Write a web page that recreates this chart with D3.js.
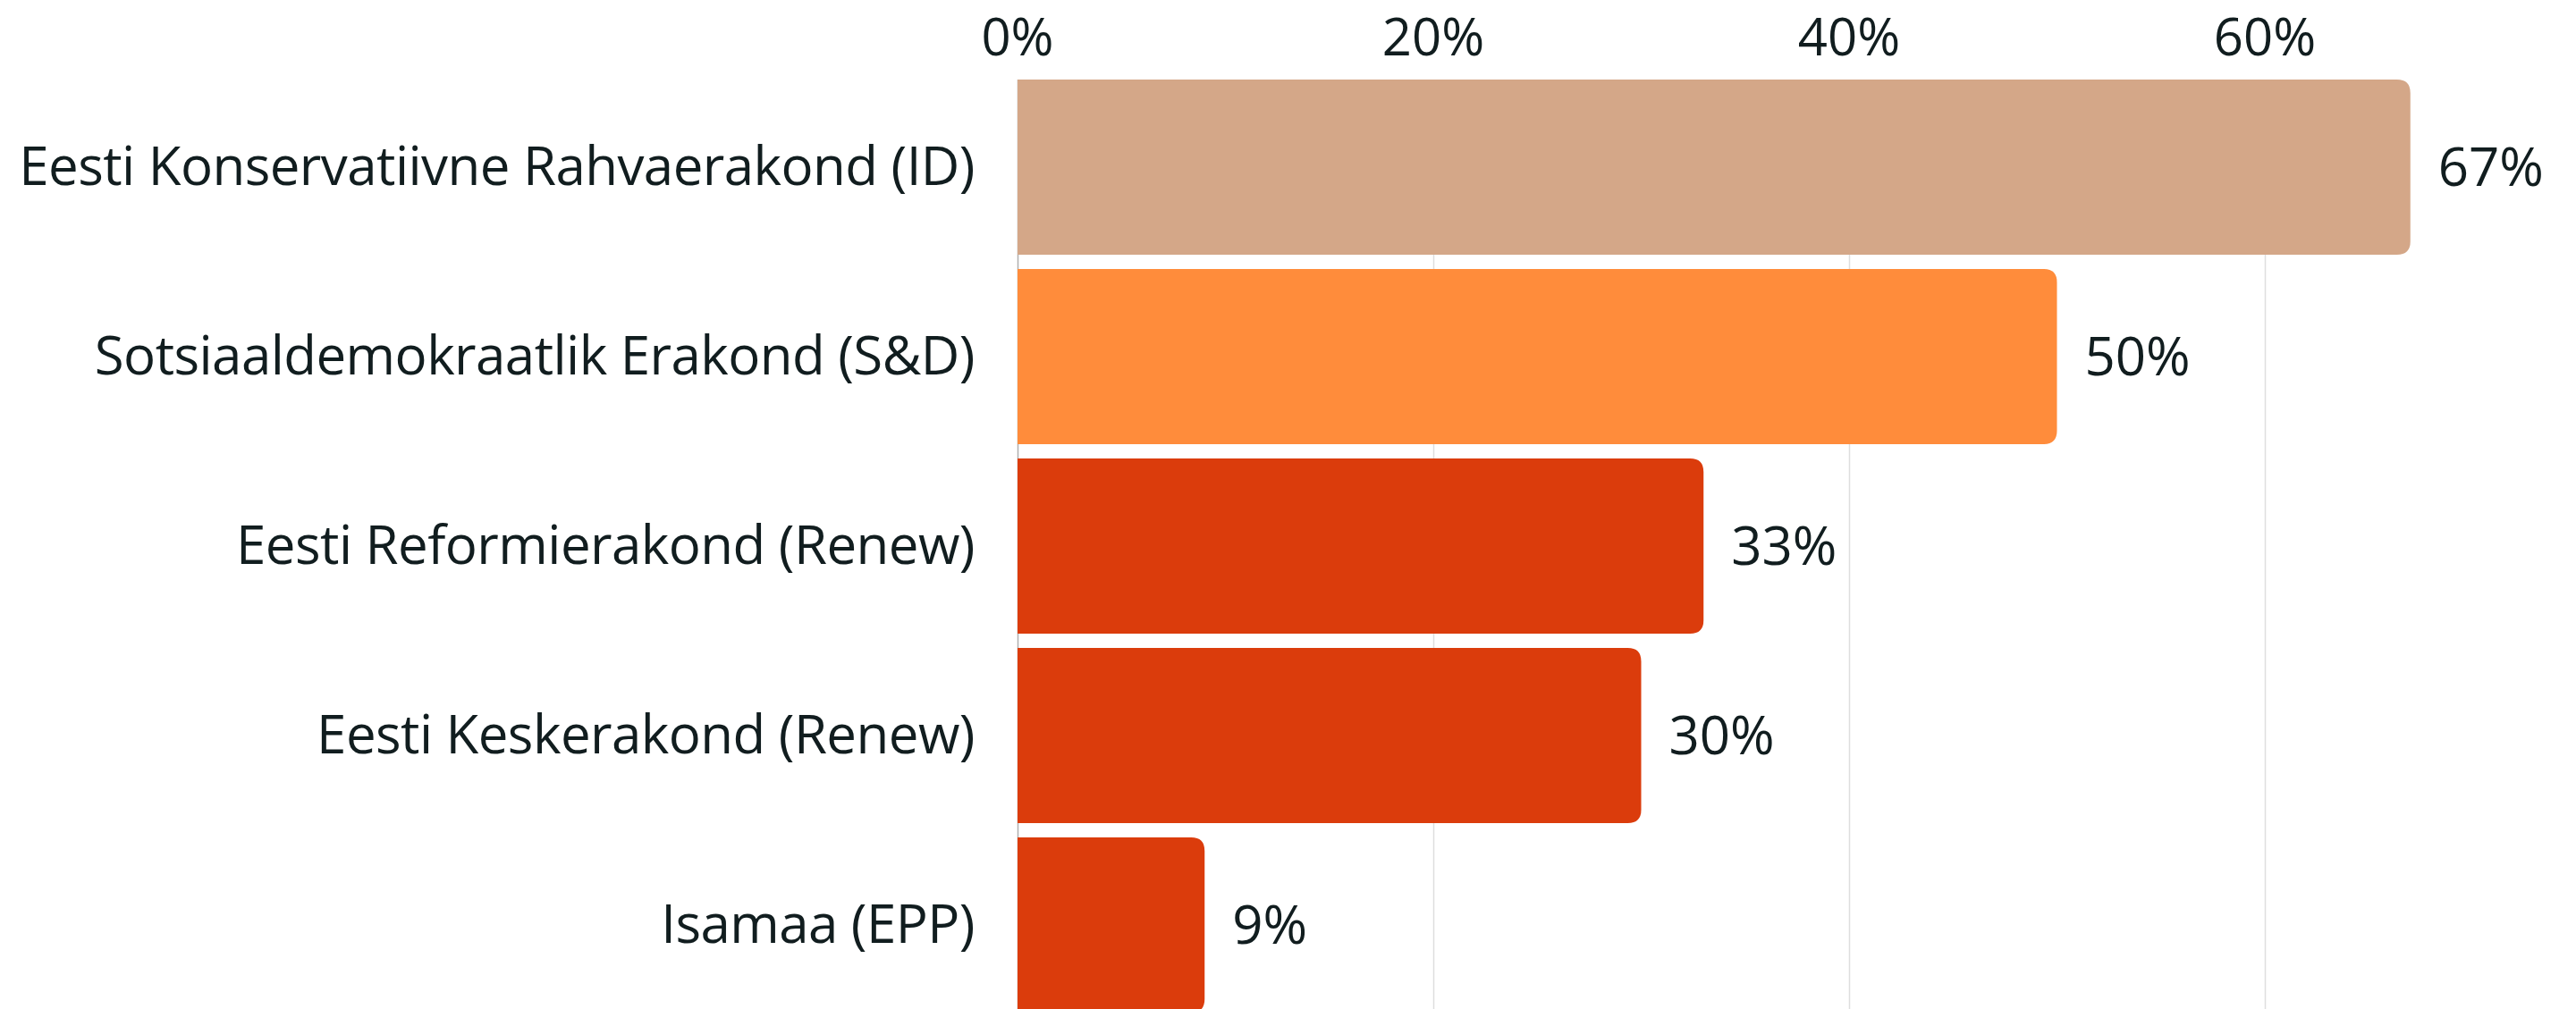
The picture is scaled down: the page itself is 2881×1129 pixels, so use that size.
<!DOCTYPE html>
<html>
<head>
<meta charset="utf-8">
<script src="https://cdn.jsdelivr.net/npm/d3@7"></script>
<style>
  html, body { margin: 0; padding: 0; background: #fff; overflow: hidden; }
  svg text { font-family: "Open Sans", sans-serif; fill: #111d1f; }
</style>
</head>
<body>
<div id="chart"></div>
<script>
// data
var parties = [
  "Eesti Konservatiivne Rahvaerakond (ID)",
  "Sotsiaaldemokraatlik Erakond (S&D)",
  "Eesti Reformierakond (Renew)",
  "Eesti Keskerakond (Renew)",
  "Isamaa (EPP)"
];
var shares = [67, 50, 33, 30, 9];
var barColors = ["#d4a788", "#ff8c3b", "#db3c0c", "#db3c0c", "#db3c0c"];
var tickValues = [0, 20, 40, 60];

var width = 2881, height = 1129;

var svg = d3.select("#chart").append("svg")
  .attr("width", width)
  .attr("height", height);

var x = d3.scaleLinear()
  .domain([0, 70])
  .range([1138, 1138 + 70 * 23.25]);

var y = d3.scaleBand()
  .domain(parties)
  .range([89, 1133])
  .paddingInner(0.0755)
  .paddingOuter(0);

// gridlines
svg.append("g")
  .selectAll("line")
  .data(tickValues)
  .enter()
  .append("line")
  .attr("x1", d => x(d) + 0.5)
  .attr("x2", d => x(d) + 0.5)
  .attr("y1", y.range()[0])
  .attr("y2", height)
  .attr("stroke", d => d === 0 ? "#b0b0b0" : "#dedede")
  .attr("stroke-width", 1.5);

// axis labels on top
svg.append("g")
  .selectAll("text")
  .data(tickValues)
  .enter()
  .append("text")
  .attr("x", d => x(d))
  .attr("y", 62)
  .attr("text-anchor", "middle")
  .style("font-size", "58px")
  .text(d => d + "%");

// bars with rounded right end
var r = 15;
function barPath(d, i) {
  var x0 = x(0), x1 = x(shares[i]), y0 = y(d), h = y.bandwidth();
  return "M" + x0 + "," + y0 +
    "H" + (x1 - r) +
    "Q" + x1 + "," + y0 + " " + x1 + "," + (y0 + r) +
    "V" + (y0 + h - r) +
    "Q" + x1 + "," + (y0 + h) + " " + (x1 - r) + "," + (y0 + h) +
    "H" + x0 + "Z";
}

svg.append("g")
  .selectAll("path")
  .data(parties)
  .enter()
  .append("path")
  .attr("d", barPath)
  .attr("fill", (d, i) => barColors[i]);

// category labels
svg.append("g")
  .selectAll("text")
  .data(parties)
  .enter()
  .append("text")
  .attr("x", x(0) - 48)
  .attr("y", d => y(d) + y.bandwidth() / 2 + 20)
  .attr("text-anchor", "end")
  .style("font-size", "60px")
  .style("letter-spacing", "-0.55px")
  .text(d => d);

// value labels
svg.append("g")
  .selectAll("text")
  .data(parties)
  .enter()
  .append("text")
  .attr("x", (d, i) => x(shares[i]) + 31)
  .attr("y", d => y(d) + y.bandwidth() / 2 + 21)
  .style("font-size", "60px")
  .text((d, i) => shares[i] + "%");
</script>
</body>
</html>
